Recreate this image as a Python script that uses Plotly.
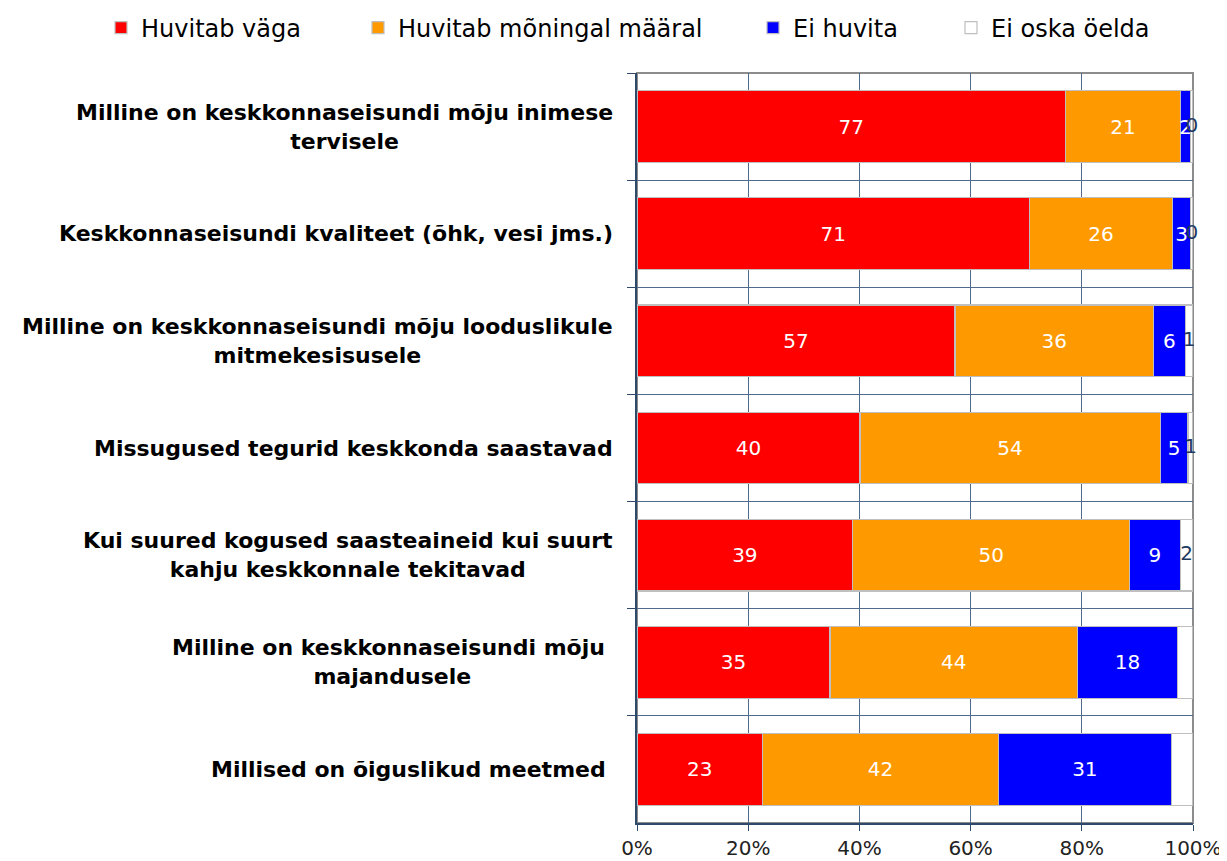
import plotly.graph_objects as go

categories = [
    "Milline on keskkonnaseisundi mõju inimese<br>tervisele",
    "Keskkonnaseisundi kvaliteet (õhk, vesi jms.)",
    "Milline on keskkonnaseisundi mõju looduslikule<br>mitmekesisusele",
    "Missugused tegurid keskkonda saastavad",
    "Kui suured kogused saasteaineid kui suurt<br>kahju keskkonnale tekitavad",
    "Milline on keskkonnaseisundi mõju\u00a0<br>majandusele",
    "Millised on õiguslikud meetmed\u00a0",
]

series_names = ["Huvitab väga", "Huvitab mõningal määral", "Ei huvita", "Ei oska öelda"]

huvitab_vaga = [77.1, 70.6, 57.2, 40.1, 38.8, 34.7, 22.6]
huvitab_moningal = [20.6, 25.7, 35.7, 54.0, 49.8, 44.5, 42.4]
ei_huvita = [1.9, 3.3, 5.7, 5.0, 9.1, 18.0, 31.1]
ei_oska = [0.4, 0.4, 1.4, 0.9, 2.3, 2.8, 3.9]

label_vaga = ["77", "71", "57", "40", "39", "35", "23"]
label_moningal = ["21", "26", "36", "54", "50", "44", "42"]
label_ei = ["2", "3", "6", "5", "9", "18", "31"]
label_oska = ["0", "0", "1", "1", "2", "", ""]

x_ticks = [0, 20, 40, 60, 80, 100]
x_tick_labels = ["0%", "20%", "40%", "60%", "80%", "100%"]

colors = ["#FF0000", "#FF9900", "#0000FF", "#FFFFFF"]
values = [huvitab_vaga, huvitab_moningal, ei_huvita, ei_oska]
labels = [label_vaga, label_moningal, label_ei, None]
legend_ids = ["legend", "legend2", "legend3", "legend4"]

FONT = "DejaVu Sans"

fig = go.Figure()
for name, vals, lab, col, lid in zip(series_names, values, labels, colors, legend_ids):
    fig.add_trace(go.Bar(
        y=categories, x=vals, name=name, orientation="h",
        marker=dict(color=col, line=dict(color="#BFBFBF", width=1.2)),
        text=lab, textposition="inside" if lab else "none", insidetextanchor="middle",
        textangle=0, constraintext="none", cliponaxis=False,
        textfont=dict(family=FONT, size=20, color="#FFFFFF"),
        legend=lid, hoverinfo="skip",
    ))

# labels of the small "Ei oska öelda" segments, centred on each segment
oska_start = [a + b + c for a, b, c in zip(huvitab_vaga, huvitab_moningal, ei_huvita)]
oska_mid = [s + w / 2 for s, w in zip(oska_start, ei_oska)]
fig.add_trace(go.Scatter(
    x=oska_mid, y=categories, mode="text", text=label_oska,
    textposition="middle center", cliponaxis=False, showlegend=False,
    textfont=dict(family=FONT, size=20, color="#1F3A60"), hoverinfo="skip",
))

for cat in categories:
    fig.add_annotation(
        x=0, xref="paper", y=cat, yref="y", xanchor="right", yanchor="middle",
        xshift=-22, text=cat, showarrow=False, align="center",
        font=dict(family=FONT, size=22, color="#000000", weight="bold"),
    )

fig.add_shape(type="rect", xref="paper", yref="paper", x0=0, x1=1, y0=0, y1=1,
              line=dict(color="#8C8C8C", width=2), layer="below")

leg_common = dict(orientation="h", yanchor="middle", y=1.06, xanchor="left",
                  font=dict(family=FONT, size=24, color="#000000"),
                  bgcolor="rgba(0,0,0,0)", borderwidth=0)
leg_x_px = [101, 358, 753, 951]
plot_left, plot_w = 637, 556
legend_layout = {}
for lid, px in zip(legend_ids, leg_x_px):
    legend_layout[lid] = dict(leg_common, x=(px - plot_left) / plot_w)

# the page body adds an 8px offset, so the figure is 8px smaller on each side
fig.update_layout(
    width=1219, height=853,
    margin=dict(l=629, r=34, t=65, b=38, autoexpand=False),
    barmode="stack", bargap=0.33,
    plot_bgcolor="#FFFFFF", paper_bgcolor="#FFFFFF",
    uniformtext=dict(minsize=20, mode="show"),
    showlegend=True,
    xaxis=dict(range=[0, 100], tickvals=x_ticks, ticktext=x_tick_labels,
               showgrid=True, gridcolor="#4F6A8A", gridwidth=1, zeroline=False,
               ticks="outside", ticklen=6, tickcolor="#2E4A6B",
               showline=True, linecolor="#2E4A6B", linewidth=2,
               tickfont=dict(family=FONT, size=20, color="#222222")),
    yaxis=dict(type="category", categoryorder="array", categoryarray=categories,
               range=[6.5, -0.5], tickson="boundaries",
               showgrid=True, gridcolor="#4F6A8A", gridwidth=1,
               ticks="outside", ticklen=8, tickcolor="#2E4A6B",
               showticklabels=False,
               showline=True, linecolor="#2E4A6B", linewidth=2),
    **legend_layout,
)

fig.write_html("out.html")
